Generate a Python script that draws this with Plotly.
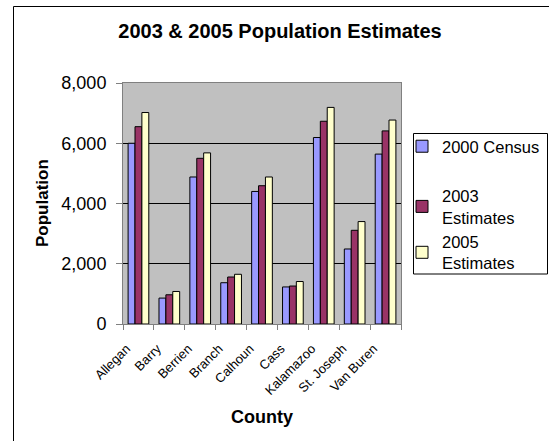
import plotly.graph_objects as go

counties = ["Allegan", "Barry", "Berrien", "Branch", "Calhoun", "Cass",
            "Kalamazoo", "St. Joseph", "Van Buren"]
census_2000 = [6000, 860, 4880, 1370, 4400, 1230, 6190, 2490, 5640]
est_2003 = [6550, 970, 5500, 1560, 4590, 1260, 6730, 3110, 6410]
est_2005 = [7020, 1080, 5680, 1650, 4880, 1410, 7190, 3400, 6770]
series_names = ["2000 Census", "2003<br>Estimates", "2005<br>Estimates"]
y_ticks = [0, 2000, 4000, 6000, 8000]

W, H = 549, 441
L, R, T, B = 123, 148, 83, 117
PW, PH = W - L - R, H - T - B

def px_x(x):
    return (x - L) / PW

def px_y(y):
    return 1 - (y - T) / PH

FONT = "Liberation Sans, Arial, sans-serif"

fig = go.Figure()
colors = ["#9999FF", "#993366", "#FFFFCC"]
groups = ["a", "b", "b"]
for name, vals, col, g in zip(series_names, [census_2000, est_2003, est_2005], colors, groups):
    fig.add_trace(go.Bar(
        x=counties, y=vals, name=name, legendgroup=g,
        marker=dict(color=col, line=dict(color="black", width=1)),
    ))

fig.update_layout(
    width=W, height=H,
    margin=dict(l=L, r=R, t=T, b=B, autoexpand=False),
    paper_bgcolor="white", plot_bgcolor="#C0C0C0",
    barmode="group", bargap=0.33, bargroupgap=0,
    font=dict(family=FONT, color="black"),
    title=dict(text="<b>2003 &amp; 2005 Population Estimates</b>",
               font=dict(size=20, family=FONT, color="black"),
               x=280 / W, xref="container", xanchor="center",
               y=1 - 31 / H, yref="container", yanchor="middle"),
    showlegend=True,
    legend=dict(x=px_x(402), y=px_y(129), xanchor="left", yanchor="top",
                xref="paper", yref="paper",
                bgcolor="rgba(0,0,0,0)", borderwidth=0,
                font=dict(size=16.5, family=FONT, color="black"),
                traceorder="grouped", tracegroupgap=25,
                itemwidth=30),
)

fig.update_xaxes(
    type="category", tickangle=-45, tickson="boundaries",
    ticks="outside", ticklen=5, tickcolor="#808080",
    tickfont=dict(size=13, family=FONT, color="black"),
    ticklabelstandoff=11, ticklabelshift=-12,
    showline=True, linecolor="#808080", linewidth=1, mirror=True,
    showgrid=False, automargin=False,
)
fig.update_yaxes(
    range=[0, 8000], tickvals=y_ticks, tickformat=",",
    ticks="outside", ticklen=6, tickcolor="#808080",
    tickfont=dict(size=18, family=FONT, color="black"),
    ticklabelstandoff=6,
    showline=True, linecolor="#808080", linewidth=1, mirror=True,
    showgrid=True, gridcolor="black", gridwidth=1,
    zeroline=False, automargin=False,
)

fig.add_annotation(text="<b>County</b>", x=0.5, y=px_y(417), xref="paper", yref="paper",
                   showarrow=False, xanchor="center", yanchor="middle",
                   font=dict(size=18, family=FONT, color="black"))
fig.add_annotation(text="<b>Population</b>", x=px_x(42), y=px_y(203), xref="paper", yref="paper",
                   showarrow=False, xanchor="center", yanchor="middle", textangle=-90,
                   font=dict(size=17, family=FONT, color="black"))

# legend box
fig.add_shape(type="rect", xref="paper", yref="paper", layer="below",
              x0=px_x(413.5), x1=px_x(547.5), y0=px_y(274), y1=px_y(133.5),
              fillcolor="white", line=dict(color="black", width=1))

# outer chart border (left and top edges visible)
fig.add_shape(type="line", xref="paper", yref="paper",
              x0=px_x(13.5), x1=px_x(560), y0=px_y(6.5), y1=px_y(6.5),
              line=dict(color="black", width=1))
fig.add_shape(type="line", xref="paper", yref="paper",
              x0=px_x(13.5), x1=px_x(13.5), y0=px_y(6.5), y1=px_y(450),
              line=dict(color="black", width=1))

fig.write_html("out.html")
